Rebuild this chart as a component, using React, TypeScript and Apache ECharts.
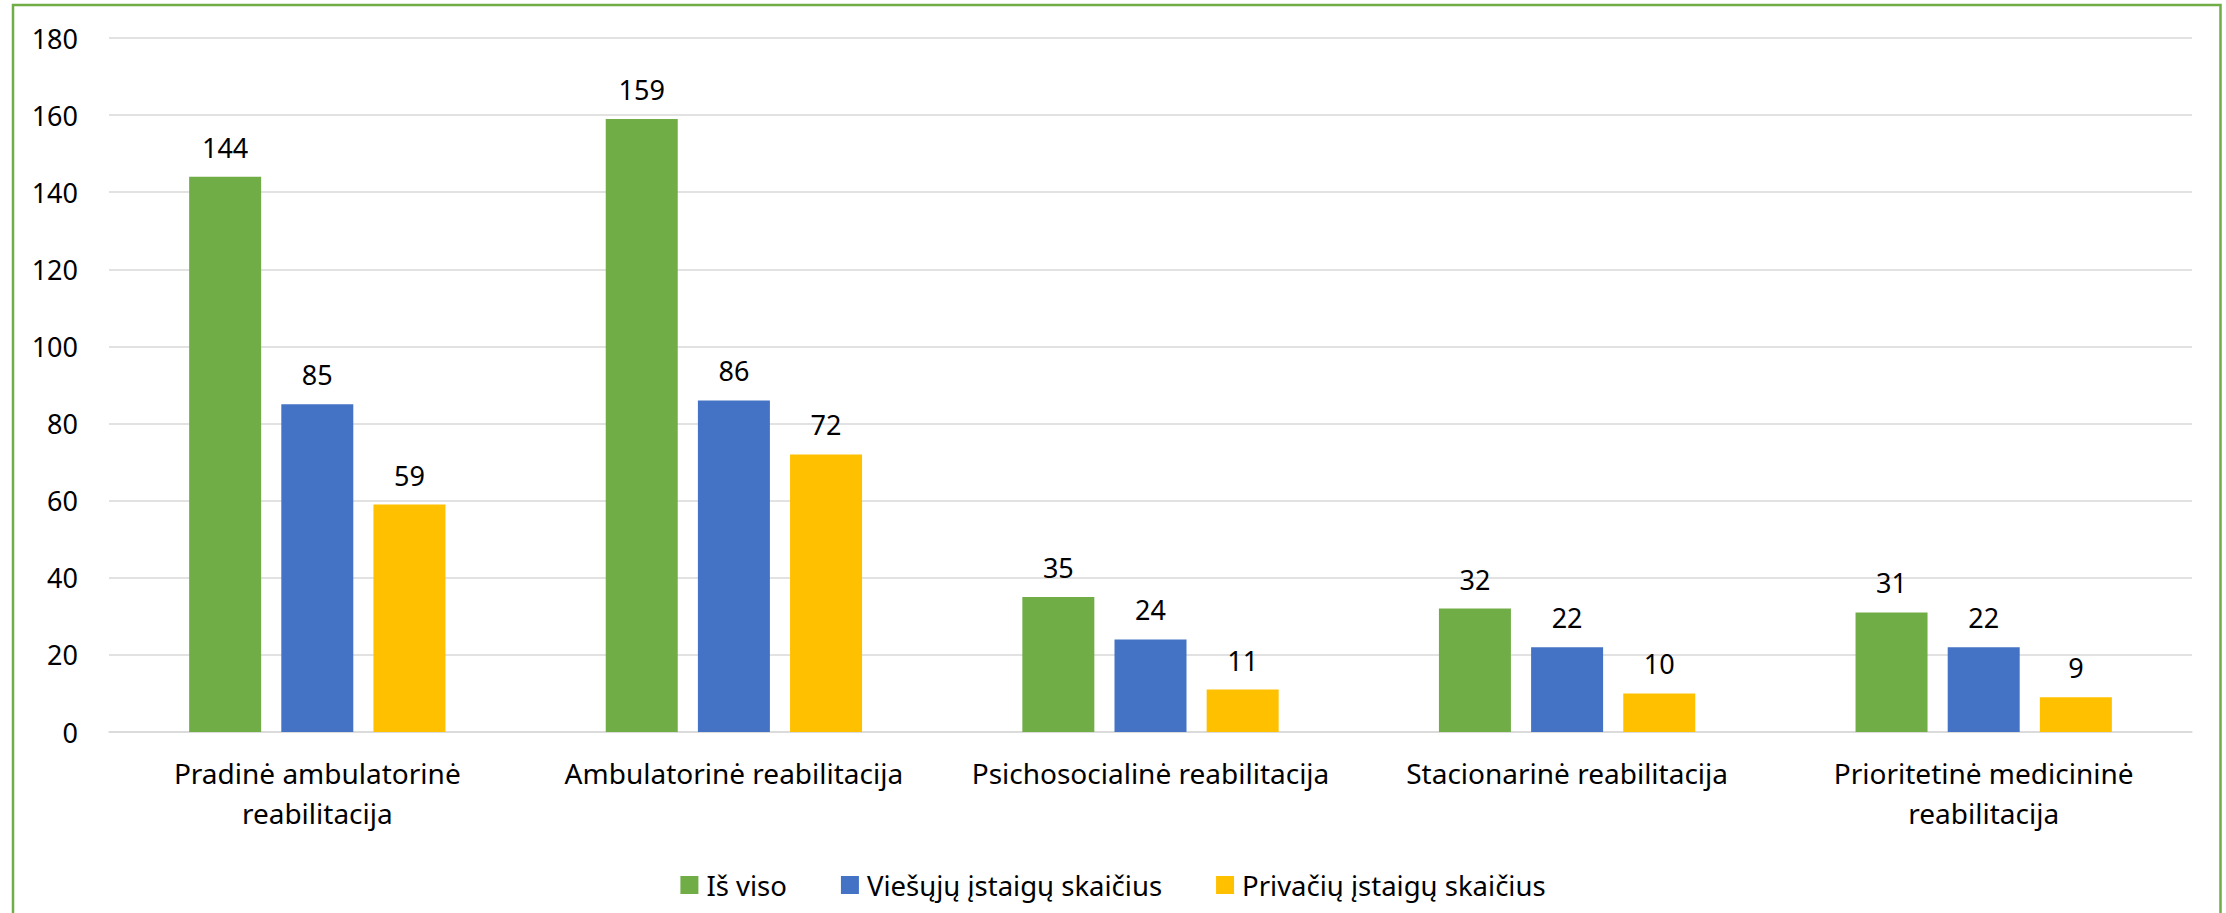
import React, { useEffect, useRef } from "react";
import * as echarts from "echarts";

const categories = [
  "Pradinė ambulatorinė\nreabilitacija",
  "Ambulatorinė reabilitacija",
  "Psichosocialinė reabilitacija",
  "Stacionarinė reabilitacija",
  "Prioritetinė medicininė\nreabilitacija",
];
const seriesNames = ["Iš viso", "Viešųjų įstaigų skaičius", "Privačių įstaigų skaičius"];
const totalValues = [144, 159, 35, 32, 31];
const publicValues = [85, 86, 24, 22, 22];
const privateValues = [59, 72, 11, 10, 9];
const colors = ["#70AD47", "#4472C4", "#FFC000"];

const FONT = "'Noto Sans', sans-serif";

export default function App() {
  const ref = useRef<HTMLDivElement>(null);
  useEffect(() => {
    document.body.style.margin = "0";
    const chart = echarts.init(ref.current!, null, { renderer: "svg" });
    const values = [totalValues, publicValues, privateValues];
    chart.setOption({
      animation: false,
      backgroundColor: "#ffffff",
      textStyle: { fontFamily: FONT },
      grid: { left: 109, right: 34, top: 38, bottom: 181, containLabel: false },
      legend: {
        data: seriesNames,
        left: "center",
        top: 866,
        itemWidth: 18,
        itemHeight: 18,
        itemGap: 54,
        icon: "rect",
        textStyle: { fontFamily: FONT, fontSize: 27.5, color: "#000", padding: [0, 0, 0, 3] },
      },
      xAxis: {
        type: "category",
        data: categories,
        axisLine: { show: true, lineStyle: { color: "#D9D9D9", width: 1.5 } },
        axisTick: { show: false },
        axisLabel: {
          fontFamily: FONT,
          fontSize: 28,
          color: "#000",
          margin: 21,
          lineHeight: 40,
          interval: 0,
        },
      },
      yAxis: {
        type: "value",
        min: 0,
        max: 180,
        interval: 20,
        axisLine: { show: false },
        axisTick: { show: false },
        splitLine: { lineStyle: { color: "#D9D9D9", width: 1.5 } },
        axisLabel: { fontFamily: FONT, fontSize: 27, color: "#000", margin: 31 },
      },
      series: seriesNames.map((name, i) => ({
        name,
        type: "bar",
        data: values[i],
        barWidth: 72,
        barGap: "28%",
        itemStyle: { color: colors[i] },
        label: {
          show: true,
          position: "top",
          distance: 16,
          fontFamily: FONT,
          fontSize: 27,
          color: "#000",
        },
      })),
      graphic: [
        {
          type: "rect",
          shape: { x: 13, y: 5, width: 2207.5, height: 1000 },
          style: { fill: "none", stroke: "#70AD47", lineWidth: 2.5 },
          silent: true,
          z: 100,
        },
      ],
    });
    return () => chart.dispose();
  }, []);
  return <div ref={ref} style={{ width: 2226, height: 913 }} />;
}
